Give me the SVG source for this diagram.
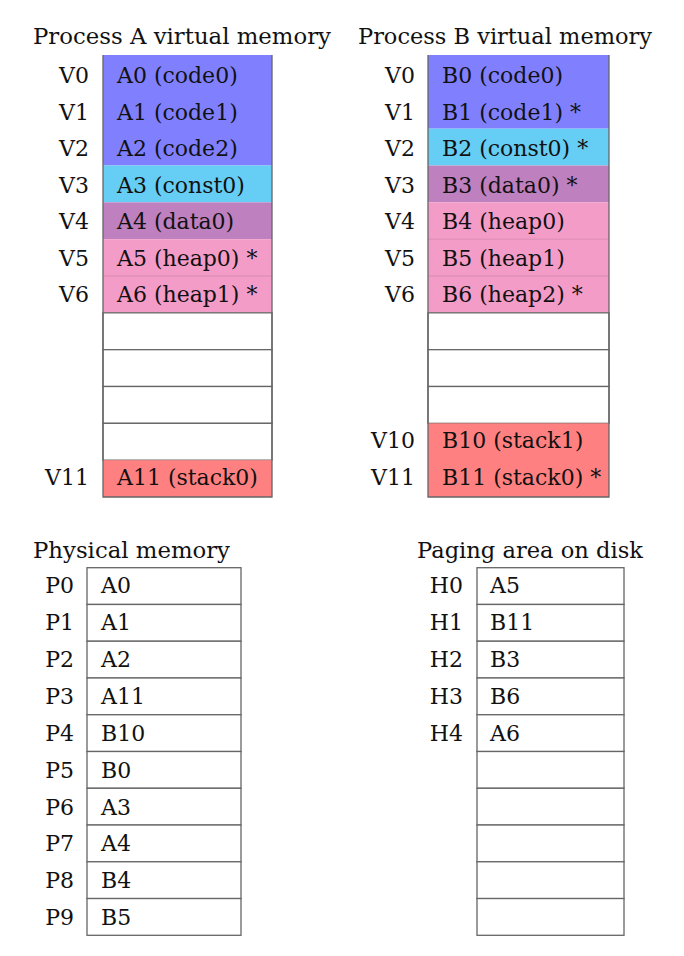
<svg xmlns="http://www.w3.org/2000/svg" width="684" height="956" viewBox="0 0 684 956">
<style>
text{font-family:"DejaVu Serif","Liberation Serif",serif;font-size:22px;fill:#111}
.title{font-size:23px}
.lbl{text-anchor:end}
.blue{fill:#8080ff}
.cyan{fill:#66cdf4}
.purple{fill:#bf80bf}
.pink{fill:#f49cc8}
.red{fill:#ff8080}
.white{fill:#fff;stroke:#666;stroke-width:1.3}
.div{stroke:#000;stroke-opacity:0.1;stroke-width:1}
.edge{stroke:#666;stroke-width:1.3;fill:none}
</style>
<rect width="684" height="956" fill="#fff"/>
<g id="connectors"/>

<g id="processA">
<text class="title" x="33" y="44" textLength="298" lengthAdjust="spacingAndGlyphs">Process A virtual memory</text>
<rect class="blue" x="103" y="55" width="169" height="110.5"/>
<rect class="cyan" x="103" y="165.5" width="169" height="36.83"/>
<rect class="purple" x="103" y="202.33" width="169" height="36.84"/>
<rect class="pink" x="103" y="239.17" width="169" height="73.66"/>
<line class="div" x1="103" y1="276" x2="272" y2="276"/>
<rect class="white" x="103" y="312.83" width="169" height="36.84"/>
<rect class="white" x="103" y="349.67" width="169" height="36.83"/>
<rect class="white" x="103" y="386.5" width="169" height="36.83"/>
<rect class="white" x="103" y="423.33" width="169" height="36.84"/>
<rect class="red" x="103" y="460.17" width="169" height="36.83"/>
<polyline class="edge" points="103,55 103,497 272,497 272,55"/>
<text class="lbl" x="89" y="83.3">V0</text>
<text class="lbl" x="89" y="119.8">V1</text>
<text class="lbl" x="89" y="156.3">V2</text>
<text class="lbl" x="89" y="192.8">V3</text>
<text class="lbl" x="89" y="229.3">V4</text>
<text class="lbl" x="89" y="265.8">V5</text>
<text class="lbl" x="89" y="302.3">V6</text>
<text class="lbl" x="89" y="484.8">V11</text>
<text x="117" y="83.3">A0 (code0)</text>
<text x="117" y="119.8">A1 (code1)</text>
<text x="117" y="156.3">A2 (code2)</text>
<text x="117" y="192.8">A3 (const0)</text>
<text x="117" y="229.3">A4 (data0)</text>
<text x="117" y="265.8">A5 (heap0) *</text>
<text x="117" y="302.3">A6 (heap1) *</text>
<text x="117" y="484.8">A11 (stack0)</text>
</g>

<g id="processB">
<text class="title" x="358" y="44" textLength="294" lengthAdjust="spacingAndGlyphs">Process B virtual memory</text>
<rect class="blue" x="428" y="55" width="181" height="73.67"/>
<rect class="cyan" x="428" y="128.67" width="181" height="36.83"/>
<rect class="purple" x="428" y="165.5" width="181" height="36.83"/>
<rect class="pink" x="428" y="202.33" width="181" height="110.5"/>
<line class="div" x1="428" y1="239.17" x2="609" y2="239.17"/>
<line class="div" x1="428" y1="276" x2="609" y2="276"/>
<rect class="white" x="428" y="312.83" width="181" height="36.84"/>
<rect class="white" x="428" y="349.67" width="181" height="36.83"/>
<rect class="white" x="428" y="386.5" width="181" height="36.83"/>
<rect class="red" x="428" y="423.33" width="181" height="73.67"/>
<polyline class="edge" points="428,55 428,497 609,497 609,55"/>
<text class="lbl" x="415" y="83.3">V0</text>
<text class="lbl" x="415" y="119.8">V1</text>
<text class="lbl" x="415" y="156.3">V2</text>
<text class="lbl" x="415" y="192.8">V3</text>
<text class="lbl" x="415" y="229.3">V4</text>
<text class="lbl" x="415" y="265.8">V5</text>
<text class="lbl" x="415" y="302.3">V6</text>
<text class="lbl" x="415" y="448.3">V10</text>
<text class="lbl" x="415" y="484.8">V11</text>
<text x="442" y="83.3">B0 (code0)</text>
<text x="442" y="119.8">B1 (code1) *</text>
<text x="442" y="156.3">B2 (const0) *</text>
<text x="442" y="192.8">B3 (data0) *</text>
<text x="442" y="229.3">B4 (heap0)</text>
<text x="442" y="265.8">B5 (heap1)</text>
<text x="442" y="302.3">B6 (heap2) *</text>
<text x="442" y="448.3">B10 (stack1)</text>
<text x="442" y="484.8">B11 (stack0) *</text>
</g>

<g id="physical">
<text class="title" x="33" y="558" textLength="197" lengthAdjust="spacingAndGlyphs">Physical memory</text>
<rect class="white" x="87" y="567.7" width="154" height="36.76"/>
<rect class="white" x="87" y="604.46" width="154" height="36.76"/>
<rect class="white" x="87" y="641.22" width="154" height="36.76"/>
<rect class="white" x="87" y="677.98" width="154" height="36.76"/>
<rect class="white" x="87" y="714.74" width="154" height="36.76"/>
<rect class="white" x="87" y="751.5" width="154" height="36.76"/>
<rect class="white" x="87" y="788.26" width="154" height="36.76"/>
<rect class="white" x="87" y="825.02" width="154" height="36.76"/>
<rect class="white" x="87" y="861.78" width="154" height="36.76"/>
<rect class="white" x="87" y="898.54" width="154" height="36.76"/>
<text class="lbl" x="74" y="593.3">P0</text>
<text class="lbl" x="74" y="630.2">P1</text>
<text class="lbl" x="74" y="667">P2</text>
<text class="lbl" x="74" y="703.9">P3</text>
<text class="lbl" x="74" y="740.7">P4</text>
<text class="lbl" x="74" y="777.6">P5</text>
<text class="lbl" x="74" y="814.5">P6</text>
<text class="lbl" x="74" y="851.3">P7</text>
<text class="lbl" x="74" y="888.2">P8</text>
<text class="lbl" x="74" y="925">P9</text>
<text x="101" y="593.3">A0</text>
<text x="101" y="630.2">A1</text>
<text x="101" y="667">A2</text>
<text x="101" y="703.9">A11</text>
<text x="101" y="740.7">B10</text>
<text x="101" y="777.6">B0</text>
<text x="101" y="814.5">A3</text>
<text x="101" y="851.3">A4</text>
<text x="101" y="888.2">B4</text>
<text x="101" y="925">B5</text>
</g>

<g id="disk">
<text class="title" x="417" y="558" textLength="226" lengthAdjust="spacingAndGlyphs">Paging area on disk</text>
<rect class="white" x="477" y="567.7" width="147" height="36.76"/>
<rect class="white" x="477" y="604.46" width="147" height="36.76"/>
<rect class="white" x="477" y="641.22" width="147" height="36.76"/>
<rect class="white" x="477" y="677.98" width="147" height="36.76"/>
<rect class="white" x="477" y="714.74" width="147" height="36.76"/>
<rect class="white" x="477" y="751.5" width="147" height="36.76"/>
<rect class="white" x="477" y="788.26" width="147" height="36.76"/>
<rect class="white" x="477" y="825.02" width="147" height="36.76"/>
<rect class="white" x="477" y="861.78" width="147" height="36.76"/>
<rect class="white" x="477" y="898.54" width="147" height="36.76"/>
<text class="lbl" x="463" y="593.3">H0</text>
<text class="lbl" x="463" y="630.2">H1</text>
<text class="lbl" x="463" y="667">H2</text>
<text class="lbl" x="463" y="703.9">H3</text>
<text class="lbl" x="463" y="740.7">H4</text>
<text x="490" y="593.3">A5</text>
<text x="490" y="630.2">B11</text>
<text x="490" y="667">B3</text>
<text x="490" y="703.9">B6</text>
<text x="490" y="740.7">A6</text>
</g>
</svg>
